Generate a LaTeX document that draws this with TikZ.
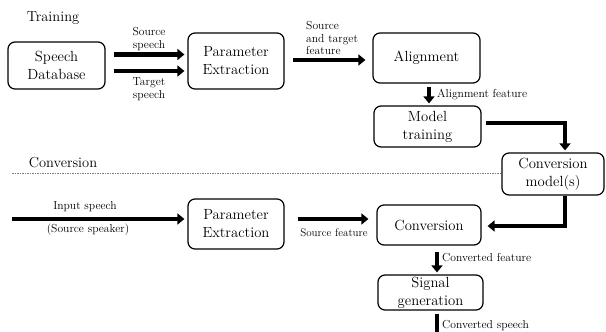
\documentclass[tikz,border=0pt]{standalone}
\usetikzlibrary{arrows.meta,positioning,calc}

\begin{document}
\begin{tikzpicture}[x=1pt, y=-1pt,
  box/.style={draw, rounded corners=7pt, line width=1.2pt, align=center,
              inner sep=0pt, font=\fontsize{14.7}{18}\selectfont},
  flow/.style={line width=4.5pt, -{Triangle[length=7pt, width=11pt]}},
  lbl/.style={font=\fontsize{11.6}{12.6}\selectfont, align=center, inner sep=0pt},
  sectlbl/.style={font=\fontsize{14.5}{17}\selectfont, inner sep=0pt},
]
\useasboundingbox (0,0) rectangle (606,332);

%% ---- section titles ----
\node[sectlbl] (ttrain) at (53,18) {Training};
\node[sectlbl] (tconv) at (63,163) {Conversion};

% separator between training and conversion
\coordinate (sepL) at (12,173);

%% ---- training boxes ----
\node[box, minimum width=97pt, minimum height=47pt] (db) at (56.5,65.5)
  {Speech\\Database};
\node[box, minimum width=96pt, minimum height=56pt] (pe1) at (236,61)
  {Parameter\\Extraction};
\node[box, minimum width=107pt, minimum height=50pt] (align) at (426.5,58)
  {Alignment};
\node[box, minimum width=107pt, minimum height=41pt] (train) at (427.5,126.5)
  {Model\\training};
\node[box, minimum width=102pt, minimum height=42pt] (cm) at (553,174)
  {Conversion\\model(s)};

%% ---- conversion boxes ----
\node[box, minimum width=96pt, minimum height=50pt] (pe2) at (236,224)
  {Parameter\\Extraction};
\node[box, minimum width=104pt, minimum height=40pt] (conv) at (429,225)
  {Conversion};
\node[box, minimum width=105pt, minimum height=35pt] (sig) at (430.5,292.5)
  {Signal\\generation};

\draw[gray, line width=0.6pt, dash pattern=on 1.5pt off 1pt]
  (sepL) -- (sepL -| cm.west);

%% ---- training arrows ----
\draw[flow] ($(db.east)+(8,-11)$) -- ($(pe1.west)+(-3,-6.5)$);
\draw[flow] ($(db.east)+(8,5.5)$) -- ($(pe1.west)+(-3,10)$);
\node[lbl] (lsrc) at (149,39) {Source\\speech};
\node[lbl] (ltgt) at (149,89) {Target\\speech};

\draw[flow] ($(pe1.east)+(8,-1)$) -- ($(align.west)+(-7,2)$);
\node[lbl, align=left, anchor=west] (lfeat) at (306,38)
  {Source\\and target\\feature};

\draw[flow] ($(align.south)+(2.5,3)$) -- ($(train.north)+(1.5,-2)$);
\node[lbl, anchor=west] (lalign) at (437,95) {Alignment feature};

\draw[flow] ($(train.east)+(4,-3.5)$) -| ($(cm.north)+(12,-2)$);

%% ---- conversion arrows ----
\coordinate (in) at (12,219);
\draw[flow] (in) -- ($(pe2.west)+(-3,-5)$);
\node[lbl] (linput) at (85,207) {Input speech};
\node[lbl] (lspk) at (88,230) {(Source speaker)};

\draw[flow] ($(pe2.east)+(13,-5)$) -- ($(conv.west)+(-8,-6)$);
\node[lbl, font=\fontsize{11}{12}\selectfont] (lsfeat) at (334,233)
  {Source feature};

\draw[flow] ($(cm.south)+(12,0)$) |- ($(conv.east)+(6,1)$);

\draw[flow] ($(conv.south)+(8,6)$) -- ($(sig.north)+(6.5,-2)$);
\node[lbl, anchor=west] (lcfeat) at (442,258) {Converted feature};

\coordinate (out) at (437,345);
\draw[flow] ($(sig.south)+(6.5,3)$) -- (out);
\node[lbl, anchor=west] (lcsp) at (442,326) {Converted speech};

\end{tikzpicture}
\end{document}
